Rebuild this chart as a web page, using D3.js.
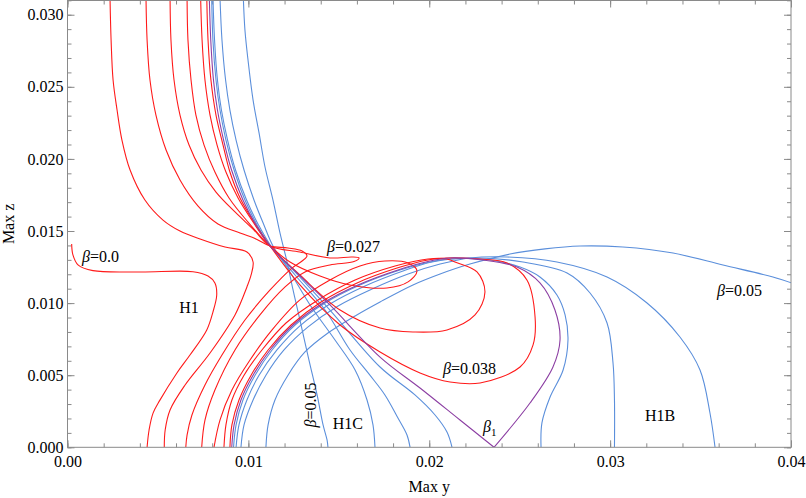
<!DOCTYPE html>
<html>
<head>
<meta charset="utf-8">
<script src="https://cdn.jsdelivr.net/npm/d3@7"></script>
<style>
  body { margin: 0; background: #fff; }
  text { font-family: "Liberation Serif", "Times New Roman", serif; }
</style>
</head>
<body>
<div id="chart"></div>
<script>
// Tick values
const xTicks = [0, 0.01, 0.02, 0.03, 0.04];
const zTicks = [0, 0.005, 0.010, 0.015, 0.020, 0.025, 0.030];

// Curves, [Max y, Max z]
// red family (small beta)
const redH1 = [[0.00023,0.0141],[0.0003,0.01334],[0.00058,0.01265],[0.00141,0.01225],[0.0040,0.01216],[0.00694,0.01218],[0.00777,0.01188],[0.00815,0.0114],[0.00825,0.01056],[0.00804,0.00938],[0.0077,0.00814],[0.00677,0.0064],[0.00604,0.00514],[0.00511,0.00327],[0.00473,0.00237],[0.00451,0.0012],[0.0044,0]];
const red1 = [[0.00235,0.0312],[0.00241,0.02825],[0.00252,0.02547],[0.00274,0.02339],[0.00301,0.02131],[0.00346,0.01923],[0.00428,0.01715],[0.00528,0.01576],[0.00622,0.015],[0.00733,0.01445],[0.00871,0.01389],[0.00992,0.01354],[0.01026,0.01285],[0.01015,0.01195],[0.00992,0.01112],[0.00926,0.00918],[0.00788,0.00654],[0.0065,0.00432],[0.00567,0.00259],[0.0054,0.0012],[0.00535,0]];
const red2 = [[0.00434,0.0312],[0.0044,0.02825],[0.00456,0.02547],[0.00489,0.02304],[0.00545,0.02062],[0.00622,0.01854],[0.00722,0.01673],[0.00832,0.01549],[0.00954,0.01486],[0.01042,0.01445],[0.0112,0.01396],[0.01219,0.01382],[0.01297,0.01361],[0.01324,0.01327],[0.01297,0.01292],[0.01241,0.01243],[0.0112,0.01091],[0.00981,0.00883],[0.00854,0.0064],[0.0076,0.00432],[0.00688,0.00224],[0.00661,0.00085],[0.00654,0]];
const red3 = [[0.00567,0.0312],[0.00572,0.02825],[0.00589,0.02547],[0.00622,0.02304],[0.00672,0.02096],[0.00738,0.01923],[0.00821,0.0177],[0.00926,0.01632],[0.01031,0.01507],[0.0112,0.01396],[0.01285,0.01354],[0.01451,0.01313],[0.01573,0.0132],[0.01612,0.01313],[0.01584,0.01288],[0.01451,0.01264],[0.01313,0.01216],[0.01203,0.01112],[0.01064,0.00918],[0.00926,0.00675],[0.00815,0.00397],[0.0076,0.00189],[0.00742,0]];
const red4 = [[0.00661,0.0312],[0.00666,0.02825],[0.00683,0.02547],[0.0071,0.02304],[0.00755,0.02096],[0.00815,0.01909],[0.00893,0.01729],[0.00998,0.01562],[0.0112,0.01396],[0.0123,0.01285],[0.01396,0.01188],[0.01562,0.01126],[0.01766,0.01105],[0.01883,0.01147],[0.01932,0.01223],[0.01883,0.01278],[0.01755,0.01292],[0.01617,0.01257],[0.01451,0.0116],[0.01285,0.01022],[0.01131,0.00814],[0.01009,0.00605],[0.00909,0.00397],[0.00843,0.00189],[0.0081,0]];
const red5 = [[0.00736,0.0312],[0.00744,0.02825],[0.0076,0.02547],[0.00788,0.02304],[0.00827,0.02096],[0.00876,0.01909],[0.00943,0.01729],[0.01026,0.01562],[0.0112,0.01396],[0.01285,0.01195],[0.01507,0.00952],[0.01728,0.00827],[0.0191,0.008],[0.02098,0.00814],[0.02253,0.00918],[0.02308,0.01077],[0.02264,0.01216],[0.02142,0.01285],[0.02098,0.01306],[0.01993,0.01306],[0.01811,0.01257],[0.0159,0.0116],[0.01385,0.01022],[0.01208,0.00862],[0.01075,0.00675],[0.00976,0.005],[0.00909,0.00328],[0.00876,0.00155],[0.00865,0]];
const red6 = [[0.0077,0.0312],[0.00777,0.02825],[0.00793,0.02547],[0.00821,0.02304],[0.0086,0.02096],[0.00898,0.01909],[0.00954,0.01729],[0.01031,0.01562],[0.0112,0.01396],[0.01285,0.01126],[0.01507,0.00848],[0.01728,0.00661],[0.01949,0.00516],[0.02115,0.00453],[0.02281,0.00446],[0.02502,0.00557],[0.02574,0.0071],[0.02585,0.00904],[0.0254,0.0116],[0.0243,0.01278],[0.02281,0.01306],[0.02187,0.01313],[0.02098,0.01313],[0.01993,0.01299],[0.01822,0.01243],[0.01601,0.0114],[0.01402,0.01008],[0.01236,0.00848],[0.01109,0.00675],[0.01015,0.005],[0.00948,0.00328],[0.00909,0.00155],[0.00898,0]];

// beta_1 (purple), split at the cusp
const purpleA = [[0.00784,0.0312],[0.00792,0.02825],[0.00807,0.02547],[0.00829,0.02339],[0.00863,0.02131],[0.00907,0.01923],[0.0097,0.01715],[0.01042,0.01542],[0.0112,0.01396],[0.01258,0.01223],[0.01451,0.00987],[0.01728,0.00626],[0.01949,0.00411],[0.0217,0.00189],[0.02358,0]];
const purpleB = [[0.02358,0],[0.02557,0.00307],[0.02684,0.00557],[0.02723,0.00744],[0.02695,0.00952],[0.02612,0.0114],[0.02485,0.0125],[0.02297,0.01299],[0.02115,0.01313],[0.02004,0.01292],[0.01827,0.0123],[0.01606,0.01126],[0.01413,0.01001],[0.01247,0.00848],[0.0112,0.00675],[0.01026,0.005],[0.00959,0.00328],[0.00921,0.00155],[0.00908,0]];

// blue family (large beta): branches from the top
const blueA1 = [[0.00797,0.0312],[0.00804,0.02825],[0.00821,0.02547],[0.00843,0.02339],[0.00876,0.02131],[0.00921,0.01923],[0.00981,0.01715],[0.01048,0.01542],[0.0112,0.01396],[0.01258,0.01216],[0.01451,0.00952],[0.01728,0.00557],[0.01921,0.00363],[0.02032,0.00224],[0.02098,0.00106],[0.02126,0]];
const blueA2 = [[0.00804,0.0312],[0.00813,0.02825],[0.00829,0.02547],[0.00851,0.02339],[0.00885,0.02131],[0.00929,0.01923],[0.0099,0.01715],[0.01056,0.01542],[0.01125,0.01396],[0.01258,0.01195],[0.01424,0.00952],[0.01562,0.00675],[0.01672,0.005],[0.01755,0.00363],[0.01827,0.00203],[0.01877,0.00085],[0.01894,0]];
const blueA3 = [[0.00843,0.0312],[0.00854,0.02825],[0.00874,0.02547],[0.00898,0.02339],[0.00932,0.02131],[0.00976,0.01923],[0.01031,0.01715],[0.01086,0.01542],[0.01136,0.01396],[0.0123,0.01216],[0.01341,0.00987],[0.01479,0.00744],[0.0159,0.00536],[0.01656,0.00328],[0.01689,0.00155],[0.017,0]];
const blueA4 = [[0.00972,0.0312],[0.00981,0.02894],[0.00998,0.02686],[0.01026,0.02408],[0.01059,0.0218],[0.01092,0.01944],[0.01136,0.01715],[0.01175,0.01486],[0.01214,0.01285],[0.01247,0.01091],[0.01285,0.00883],[0.01335,0.00605],[0.0138,0.00363],[0.01413,0.00155],[0.01435,0.00051],[0.0144,0]];
// blue family: branches from the bottom left
const blueB1 = [[0.00918,0],[0.00932,0.00155],[0.0097,0.00328],[0.01037,0.005],[0.01131,0.00675],[0.01258,0.00848],[0.01424,0.01001],[0.01617,0.01126],[0.01838,0.0123],[0.02004,0.01285],[0.02115,0.01306],[0.02336,0.01299],[0.02502,0.0125],[0.02612,0.01181],[0.02706,0.01056],[0.02751,0.00918],[0.02767,0.00744],[0.0274,0.00536],[0.02668,0.00349],[0.02623,0.00169],[0.02618,0]];
const blueB2 = [[0.00932,0],[0.00948,0.00155],[0.00992,0.00328],[0.01059,0.005],[0.01158,0.00675],[0.01285,0.00842],[0.01451,0.00994],[0.01645,0.01119],[0.01855,0.01223],[0.02015,0.01285],[0.02242,0.01313],[0.02518,0.01285],[0.02762,0.01209],[0.02889,0.0107],[0.02983,0.00862],[0.03016,0.00585],[0.03024,0.00328],[0.03024,0]];
const blueB3 = [[0.00959,0],[0.00976,0.00155],[0.01026,0.00328],[0.01097,0.005],[0.01197,0.00675],[0.0133,0.00835],[0.01496,0.0098],[0.01684,0.01098],[0.01883,0.01202],[0.0206,0.01271],[0.02225,0.01313],[0.0243,0.0132],[0.02706,0.01285],[0.02983,0.01181],[0.03204,0.01001],[0.03386,0.00765],[0.03497,0.00536],[0.03552,0.00238],[0.0358,0]];
const blueB4 = [[0.01097,0],[0.01109,0.00155],[0.01147,0.00328],[0.01219,0.005],[0.01313,0.00661],[0.0144,0.00793],[0.0159,0.00911],[0.01728,0.01008],[0.0191,0.01126],[0.0206,0.01202],[0.02225,0.01271],[0.02446,0.0134],[0.0264,0.01376],[0.02834,0.01396],[0.03071,0.01389],[0.03348,0.01347],[0.03624,0.01264],[0.039,0.01181],[0.04003,0.0114]];

const redCurves = [redH1, red1, red2, red3, red4, red5, red6];
const blueCurves = [blueA1, blueA2, blueA3, blueA4, blueB1, blueB2, blueB3, blueB4];
const purpleCurves = [purpleA, purpleB];

// Annotations in data coordinates
const notes = [
  { beta: true, text: "=0.0", x: 0.0008, z: 0.01285, anchor: "start" },
  { text: "H1", x: 0.00672, z: 0.00931, anchor: "middle" },
  { beta: true, text: "=0.027", x: 0.01435, z: 0.01354, anchor: "start" },
  { beta: true, text: "=0.038", x: 0.02076, z: 0.00508, anchor: "start" },
  { text: "H1B", x: 0.03276, z: 0.00182, anchor: "middle" },
  { beta: true, text: "=0.05", x: 0.03591, z: 0.01049, anchor: "start" },
  { text: "H1C", x: 0.0155, z: 0.00127, anchor: "middle" }
];

(function () {
  const W = 806, H = 498;
  const plot = { left: 67.5, right: 791, top: 0.5, bottom: 447.3 };

  const x = d3.scaleLinear().domain([0, 0.04]).range([plot.left, plot.right]);
  const y = d3.scaleLinear().domain([0, 0.031]).range([plot.bottom, 0.3]);

  const svg = d3.select("#chart").append("svg")
      .attr("width", W)
      .attr("height", H);

  svg.append("defs").append("clipPath").attr("id", "clip")
    .append("rect")
      .attr("x", plot.left).attr("y", plot.top)
      .attr("width", plot.right - plot.left)
      .attr("height", plot.bottom - plot.top);

  const frameColor = "#8a8a8a";

  // Axes: ticks point inward on all four sides
  function styleAxis(g) {
    g.select(".domain").remove();
    g.selectAll(".tick line").attr("stroke", frameColor);
    g.selectAll(".tick text")
      .attr("fill", "#000")
      .style("font-size", "16px")
      .style("font-family", "'Liberation Serif', serif");
  }

  const xMinor = d3.range(0, 0.0401, 0.002);
  const zMinor = d3.range(0, 0.0311, 0.001);

  svg.append("g")
      .attr("transform", `translate(0,${plot.bottom})`)
      .call(d3.axisBottom(x).tickValues(xMinor).tickSize(-4).tickFormat(""))
      .call(styleAxis);
  svg.append("g")
      .attr("transform", `translate(0,${plot.bottom})`)
      .call(d3.axisBottom(x).tickValues(xTicks).tickSize(-7).tickPadding(8).tickFormat(d3.format(".2f")))
      .call(styleAxis);
  svg.append("g")
      .attr("transform", `translate(0,${plot.top})`)
      .call(d3.axisTop(x).tickValues(xMinor).tickSize(-4).tickFormat(""))
      .call(styleAxis);
  svg.append("g")
      .attr("transform", `translate(0,${plot.top})`)
      .call(d3.axisTop(x).tickValues(xTicks).tickSize(-7).tickFormat(""))
      .call(styleAxis);

  svg.append("g")
      .attr("transform", `translate(${plot.left},0)`)
      .call(d3.axisLeft(y).tickValues(zMinor).tickSize(-4).tickFormat(""))
      .call(styleAxis);
  svg.append("g")
      .attr("transform", `translate(${plot.left},0)`)
      .call(d3.axisLeft(y).tickValues(zTicks).tickSize(-7).tickPadding(4).tickFormat(d3.format(".3f")))
      .call(styleAxis);
  svg.append("g")
      .attr("transform", `translate(${plot.right},0)`)
      .call(d3.axisRight(y).tickValues(zMinor).tickSize(-4).tickFormat(""))
      .call(styleAxis);
  svg.append("g")
      .attr("transform", `translate(${plot.right},0)`)
      .call(d3.axisRight(y).tickValues(zTicks).tickSize(-7).tickFormat(""))
      .call(styleAxis);

  // Curves
  const line = d3.line()
      .x(d => x(d[0]))
      .y(d => y(d[1]))
      .curve(d3.curveCatmullRom.alpha(0.5));

  const curves = svg.append("g").attr("clip-path", "url(#clip)");

  function drawSet(set, color) {
    curves.selectAll(null)
      .data(set)
      .join("path")
        .attr("fill", "none")
        .attr("stroke", color)
        .attr("stroke-width", 1.1)
        .attr("d", line);
  }

  drawSet(blueCurves, "#5b8fdb");
  drawSet(redCurves, "#ff1a1a");
  drawSet(purpleCurves, "#8c3fa3");

  // Frame
  svg.append("rect")
      .attr("x", plot.left).attr("y", plot.top)
      .attr("width", plot.right - plot.left)
      .attr("height", plot.bottom - plot.top)
      .attr("fill", "none")
      .attr("stroke", frameColor)
      .attr("stroke-width", 1);

  // Labels inside the plot
  notes.forEach(n => {
    const t = svg.append("text")
        .attr("x", x(n.x))
        .attr("y", y(n.z))
        .attr("text-anchor", n.anchor)
        .style("font-size", "16px");
    if (n.beta) t.append("tspan").style("font-style", "italic").text("\u03B2");
    t.append("tspan").text(n.text);
  });

  // beta_1 with subscript
  const b1 = svg.append("text")
      .attr("x", x(0.02297))
      .attr("y", y(0.00106))
      .style("font-size", "16px");
  b1.append("tspan").style("font-style", "italic").text("\u03B2");
  b1.append("tspan").attr("dy", 4).style("font-size", "11px").text("1");

  // rotated beta=0.05 along the steep blue branch
  const rb = svg.append("text")
      .attr("transform", `translate(${x(0.01374)},${y(0.00293)}) rotate(-90)`)
      .attr("text-anchor", "middle")
      .style("font-size", "16px");
  rb.append("tspan").style("font-style", "italic").text("\u03B2");
  rb.append("tspan").text("=0.05");

  // Axis titles
  svg.append("text")
      .attr("x", (plot.left + plot.right) / 2)
      .attr("y", 492)
      .attr("text-anchor", "middle")
      .style("font-size", "16px")
      .text("Max y");

  svg.append("text")
      .attr("transform", `translate(14,${(plot.top + plot.bottom) / 2}) rotate(-90)`)
      .attr("text-anchor", "middle")
      .style("font-size", "16px")
      .text("Max z");
})();
</script>
</body>
</html>
